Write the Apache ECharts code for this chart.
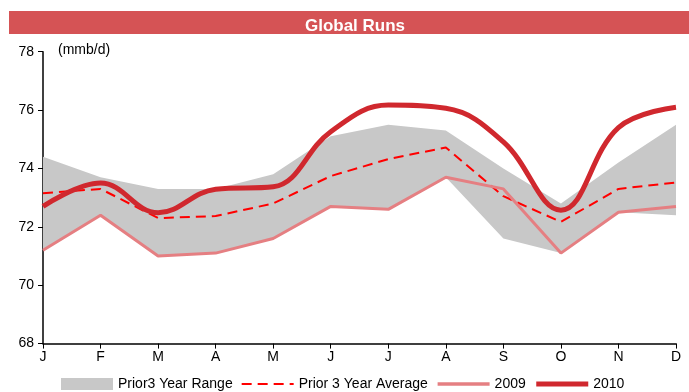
<!DOCTYPE html>
<html>
<head>
<meta charset="utf-8">
<script src="https://cdn.jsdelivr.net/npm/echarts@6/dist/echarts.min.js"></script>
<style>
  html, body { margin: 0; padding: 0; background: #fff; }
  #chart { width: 689px; height: 392px; }
</style>
</head>
<body>
<div id="chart"></div>
<script>
// Monthly global refinery runs, million barrels per day
const months = ['J', 'F', 'M', 'A', 'M', 'J', 'J', 'A', 'S', 'O', 'N', 'D'];
const rangeLow  = [71.2, 72.4, 71.0, 71.1, 71.6, 72.7, 72.6, 73.7, 71.6, 71.1, 72.5, 72.4];
const rangeHigh = [74.4, 73.7, 73.3, 73.3, 73.8, 75.1, 75.5, 75.3, 74.0, 72.8, 74.2, 75.5];
const avg3y     = [73.15, 73.3, 72.3, 72.37, 72.8, 73.74, 74.32, 74.72, 73.05, 72.17, 73.3, 73.52];
const runs2009  = [71.2, 72.4, 71.0, 71.1, 71.6, 72.7, 72.6, 73.7, 73.3, 71.1, 72.5, 72.7];
const runs2010  = [72.7, 73.5, 72.48, 73.29, 73.37, 75.26, 76.17, 76.06, 74.91, 72.57, 75.4, 76.1];
const yTicks = { min: 68, max: 78, step: 2 };

const rangeSpan = rangeHigh.map((v, i) => +(v - rangeLow[i]).toFixed(2));

const font = 'Liberation Sans, Arial, sans-serif';
const chart = echarts.init(document.getElementById('chart'), null, { renderer: 'canvas' });

// line legend entries: keep the stroke, hide the marker dot
const lineLegend = (name, width) => ({
  name,
  itemStyle: { opacity: 0 },
  lineStyle: { width }
});

chart.setOption({
  animation: false,
  backgroundColor: '#fff',
  textStyle: { fontFamily: font },
  title: {
    text: 'Global Runs',
    left: 350,
    textAlign: 'center',
    top: 13,
    textStyle: { color: '#fff', fontSize: 17, fontWeight: 'bold', fontFamily: font }
  },
  graphic: [
    { type: 'rect', z: -1, shape: { x: 9, y: 11, width: 680, height: 23 }, style: { fill: '#d55355' } },
    { type: 'text', left: 58, top: 43, style: { text: '(mmb/d)', fontSize: 14, fill: '#000', fontFamily: font } }
  ],
  grid: { left: 43, right: 13, top: 51.7, bottom: 48.4 },
  legend: {
    top: 372,
    left: 56,
    itemWidth: 52,
    itemHeight: 12,
    itemGap: 8,
    textStyle: { fontSize: 14, color: '#000', fontFamily: font },
    data: [
      { name: 'Prior3 Year Range', icon: 'rect', itemStyle: { color: '#c8c8c8' } },
      lineLegend('Prior 3 Year Average', 2),
      lineLegend('2009', 3.5),
      lineLegend('2010', 5)
    ]
  },
  xAxis: {
    type: 'category',
    data: months,
    boundaryGap: false,
    axisLine: { lineStyle: { color: '#000', width: 1.5 } },
    axisTick: { show: true, length: 5, lineStyle: { color: '#000' }, alignWithLabel: true },
    axisLabel: { color: '#000', fontSize: 14, margin: 7 },
    splitLine: { show: false }
  },
  yAxis: {
    type: 'value',
    min: yTicks.min,
    max: yTicks.max,
    interval: yTicks.step,
    axisLine: { show: true, lineStyle: { color: '#000', width: 1.5 } },
    axisTick: { show: true, length: 5, lineStyle: { color: '#000' } },
    axisLabel: { color: '#000', fontSize: 14, margin: 9 },
    splitLine: { show: false }
  },
  series: [
    {
      name: 'rangeBase',
      type: 'line',
      stack: 'range',
      data: rangeLow,
      symbol: 'none',
      lineStyle: { opacity: 0 },
      silent: true
    },
    {
      name: 'Prior3 Year Range',
      type: 'line',
      stack: 'range',
      data: rangeSpan,
      symbol: 'none',
      lineStyle: { opacity: 0 },
      itemStyle: { color: '#c8c8c8' },
      areaStyle: { color: '#c8c8c8', opacity: 1 }
    },
    {
      name: 'Prior 3 Year Average',
      type: 'line',
      data: avg3y,
      symbol: 'none',
      itemStyle: { color: '#ff0000' },
      lineStyle: { color: '#ff0000', width: 2, type: [10, 6] }
    },
    {
      name: '2009',
      type: 'line',
      data: runs2009,
      symbol: 'none',
      itemStyle: { color: '#e57f82' },
      lineStyle: { color: '#e57f82', width: 3 }
    },
    {
      name: '2010',
      type: 'line',
      data: runs2010,
      symbol: 'none',
      smooth: 0.4,
      itemStyle: { color: '#d0282e' },
      lineStyle: { color: '#d0282e', width: 5 }
    }
  ]
});
</script>
</body>
</html>
